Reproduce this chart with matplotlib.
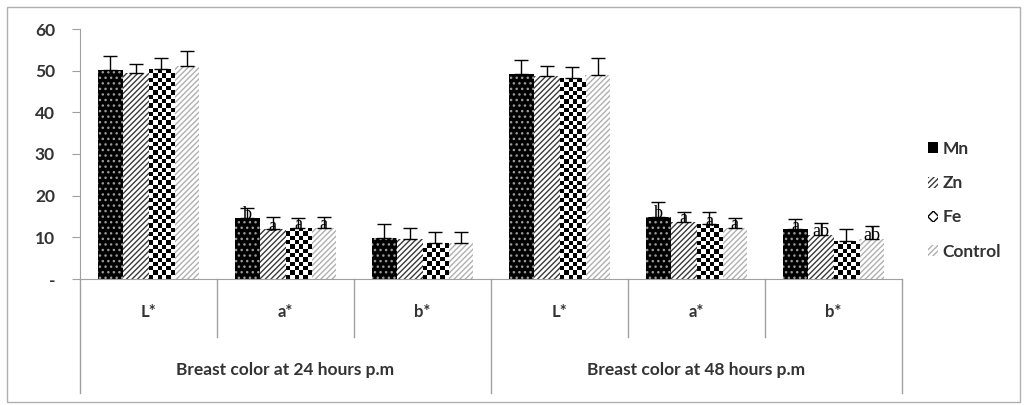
import matplotlib
matplotlib.use("Agg")
import matplotlib.pyplot as plt
import matplotlib.patches as mpatches
import numpy as np

# categories and series
attributes = ["L*", "a*", "b*", "L*", "a*", "b*"]
periods = ["Breast color at 24 hours p.m", "Breast color at 48 hours p.m"]
series_names = ["Mn", "Zn", "Fe", "Control"]

mn = [50.2, 14.6, 9.9, 49.2, 14.8, 11.9]
zn = [49.4, 11.9, 9.6, 48.7, 13.8, 10.6]
fe = [50.3, 12.3, 8.6, 48.2, 13.1, 9.2]
ctrl = [51.0, 12.2, 8.7, 49.0, 12.2, 9.6]

mn_err = [3.3, 2.4, 3.2, 3.3, 3.7, 2.5]
zn_err = [2.1, 3.1, 2.6, 2.5, 2.4, 2.8]
fe_err = [2.7, 2.3, 2.8, 2.6, 2.9, 2.7]
ctrl_err = [3.7, 2.6, 2.7, 4.0, 2.4, 3.2]

# significance letters ("" = none)
mn_lab = ["", "b", "", "", "b", "a"]
zn_lab = ["", "a", "", "", "a", "ab"]
fe_lab = ["", "a", "", "", "a", ""]
ctrl_lab = ["", "a", "", "", "a", "ab"]

yticks = [0, 10, 20, 30, 40, 50, 60]
ytick_labels = ["-", "10", "20", "30", "40", "50", "60"]

plt.rcParams["font.family"] = "Lato"
plt.rcParams["hatch.linewidth"] = 1.0
txt_color = "#333333"
axis_color = "#a0a0a0"

fig = plt.figure(figsize=(10.26, 4.05), dpi=100)
ax = fig.add_axes([80 / 1026, 1 - 279 / 405, 822 / 1026, 250 / 405])
ax.set_xlim(-0.5, 5.5)
ax.set_ylim(0, 60)

x = np.arange(len(attributes))
w = 0.186
styles = [
    dict(color="black", edgecolor="#9a9a9a", hatch="...", linewidth=0),
    dict(color="white", edgecolor="#3a3a3a", hatch="//////", linewidth=0),
    dict(color="white", edgecolor="white", hatch=None, linewidth=0),
    dict(color="white", edgecolor="#b0b0b0", hatch="//////", linewidth=0),
]
data = [mn, zn, fe, ctrl]
errs = [mn_err, zn_err, fe_err, ctrl_err]
labs = [mn_lab, zn_lab, fe_lab, ctrl_lab]

containers = []
for i, (vals, err, st) in enumerate(zip(data, errs, styles)):
    pos = x + (i - 1.5) * w
    bars = ax.bar(pos, vals, w, zorder=2, **st)
    ax.errorbar(pos, vals, yerr=[np.zeros(len(vals)), err], fmt="none",
                ecolor="black", elinewidth=1.0, capsize=5, capthick=1.0, zorder=3)
    containers.append(bars)

# checkerboard fill for Fe bars
px_per_unit = ax.transData.transform((0, 1))[1] - ax.transData.transform((0, 0))[1]
for bar in containers[2]:
    ncol = 6
    cell_px = (ax.transData.transform((bar.get_width(), 0))[0] - ax.transData.transform((0, 0))[0]) / ncol
    nrow = max(1, int(round(bar.get_height() * px_per_unit / cell_px)))
    checker = (np.indices((nrow, ncol)).sum(axis=0) % 2).astype(float)
    im = ax.imshow(checker, cmap="gray", extent=(bar.get_x(), bar.get_x() + bar.get_width(), 0, bar.get_height()),
                   aspect="auto", interpolation="nearest", zorder=2.5, origin="lower", vmin=0, vmax=1)
    im.set_clip_path(bar)
ax.set_xlim(-0.5, 5.5)
ax.set_ylim(0, 60)

# significance letters
for i, (vals, lab) in enumerate(zip(data, labs)):
    pos = x + (i - 1.5) * w
    for xp, v, t in zip(pos, vals, lab):
        if t:
            ax.text(xp, v + 0.8, t, ha="center", va="center", fontsize=13,
                    family="Liberation Serif", color="black", zorder=4)

# axes styling
for s in ["top", "right"]:
    ax.spines[s].set_visible(False)
ax.spines["left"].set_color(axis_color)
ax.spines["bottom"].set_color(axis_color)
ax.set_yticks(yticks)
ax.set_yticklabels(ytick_labels, fontsize=12.5, fontweight="bold", color=txt_color)
ax.tick_params(axis="y", direction="out", length=6, color=axis_color, pad=12)
ax.set_xticks([])

# category labels and separators below the axis
for xi, a in zip(x, attributes):
    ax.text(xi, -0.132, a, transform=ax.get_xaxis_transform(), ha="center", va="center",
            fontsize=12, fontweight="bold", color=txt_color)
for xs in [0.5, 1.5, 3.5, 4.5]:
    ax.plot([xs, xs], [0, -0.232], transform=ax.get_xaxis_transform(), color=axis_color,
            lw=1, clip_on=False)
for xs in [-0.5, 2.5, 5.5]:
    ax.plot([xs, xs], [0, -0.456], transform=ax.get_xaxis_transform(), color=axis_color,
            lw=1, clip_on=False)
for k, p in enumerate(periods):
    ax.text(1 + 3 * k, -0.364, p, transform=ax.get_xaxis_transform(), ha="center", va="center",
            fontsize=12.5, fontweight="bold", color=txt_color)

# legend
handles = [mpatches.Patch(facecolor=st["color"], edgecolor=st["edgecolor"], hatch=st["hatch"], linewidth=0)
           for st in styles]
handles[0] = mpatches.Patch(facecolor="black", edgecolor="black", linewidth=0)
handles[2] = mpatches.Patch(facecolor="white", edgecolor="black", hatch="XXX", linewidth=0)
leg = fig.legend(handles, series_names, loc="upper left", bbox_to_anchor=(921 / 1026, 1 - 134 / 405),
                 frameon=False, fontsize=12.5, handlelength=0.6, handleheight=0.6, handletextpad=0.25,
                 labelspacing=1.05, borderaxespad=0)
for t in leg.get_texts():
    t.set_color(txt_color)
    t.set_fontweight("bold")

# outer border
fig.patches.append(mpatches.Rectangle((7 / 1026, 3 / 405), 1013 / 1026, 395 / 405, transform=fig.transFigure,
                                      fill=False, edgecolor="#b0b0b0", lw=1))

fig.savefig("out.png", dpi=100)
